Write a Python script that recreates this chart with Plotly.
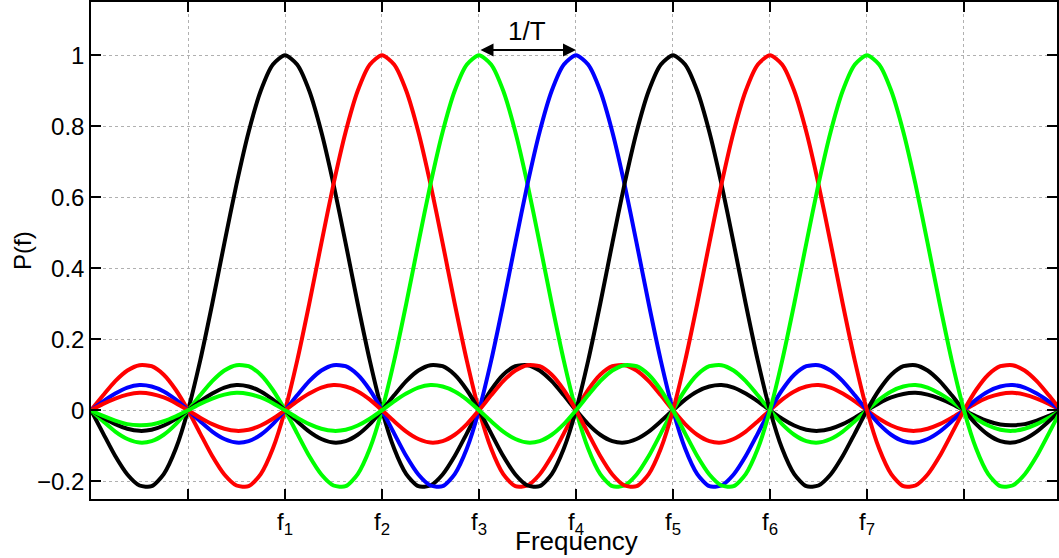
import numpy as np
import plotly.graph_objects as go

# Frequency axis samples (units of 1/T), eighth steps from -1 to 9
freq = np.linspace(-1, 9, 81)

# P(f) for each subcarrier (one row per 1/T interval)
p_f1 = [0, -0.065, -0.129, -0.181, -0.212, -0.214, -0.180, -0.108,
        0, 0.139, 0.300, 0.471, 0.637, 0.784, 0.900, 0.974,
        1, 0.974, 0.900, 0.784, 0.637, 0.471, 0.300, 0.139,
        0, -0.108, -0.180, -0.214, -0.212, -0.181, -0.129, -0.065,
        0, 0.057, 0.100, 0.124, 0.127, 0.112, 0.082, 0.042,
        0, -0.039, -0.069, -0.087, -0.091, -0.081, -0.060, -0.031,
        0, 0.030, 0.053, 0.067, 0.071, 0.064, 0.047, 0.025,
        0, -0.024, -0.043, -0.055, -0.058, -0.052, -0.039, -0.021,
        0, 0.020, 0.036, 0.046, 0.049, 0.044, 0.033, 0.018,
        0, -0.017, -0.031, -0.040, -0.042, -0.039, -0.029, -0.016,
        0]
p_f2 = [0, 0.042, 0.082, 0.112, 0.127, 0.124, 0.100, 0.057,
        0, -0.065, -0.129, -0.181, -0.212, -0.214, -0.180, -0.108,
        0, 0.139, 0.300, 0.471, 0.637, 0.784, 0.900, 0.974,
        1, 0.974, 0.900, 0.784, 0.637, 0.471, 0.300, 0.139,
        0, -0.108, -0.180, -0.214, -0.212, -0.181, -0.129, -0.065,
        0, 0.057, 0.100, 0.124, 0.127, 0.112, 0.082, 0.042,
        0, -0.039, -0.069, -0.087, -0.091, -0.081, -0.060, -0.031,
        0, 0.030, 0.053, 0.067, 0.071, 0.064, 0.047, 0.025,
        0, -0.024, -0.043, -0.055, -0.058, -0.052, -0.039, -0.021,
        0, 0.020, 0.036, 0.046, 0.049, 0.044, 0.033, 0.018,
        0]
p_f3 = [0, -0.031, -0.060, -0.081, -0.091, -0.087, -0.069, -0.039,
        0, 0.042, 0.082, 0.112, 0.127, 0.124, 0.100, 0.057,
        0, -0.065, -0.129, -0.181, -0.212, -0.214, -0.180, -0.108,
        0, 0.139, 0.300, 0.471, 0.637, 0.784, 0.900, 0.974,
        1, 0.974, 0.900, 0.784, 0.637, 0.471, 0.300, 0.139,
        0, -0.108, -0.180, -0.214, -0.212, -0.181, -0.129, -0.065,
        0, 0.057, 0.100, 0.124, 0.127, 0.112, 0.082, 0.042,
        0, -0.039, -0.069, -0.087, -0.091, -0.081, -0.060, -0.031,
        0, 0.030, 0.053, 0.067, 0.071, 0.064, 0.047, 0.025,
        0, -0.024, -0.043, -0.055, -0.058, -0.052, -0.039, -0.021,
        0]
p_f4 = [0, 0.025, 0.047, 0.064, 0.071, 0.067, 0.053, 0.030,
        0, -0.031, -0.060, -0.081, -0.091, -0.087, -0.069, -0.039,
        0, 0.042, 0.082, 0.112, 0.127, 0.124, 0.100, 0.057,
        0, -0.065, -0.129, -0.181, -0.212, -0.214, -0.180, -0.108,
        0, 0.139, 0.300, 0.471, 0.637, 0.784, 0.900, 0.974,
        1, 0.974, 0.900, 0.784, 0.637, 0.471, 0.300, 0.139,
        0, -0.108, -0.180, -0.214, -0.212, -0.181, -0.129, -0.065,
        0, 0.057, 0.100, 0.124, 0.127, 0.112, 0.082, 0.042,
        0, -0.039, -0.069, -0.087, -0.091, -0.081, -0.060, -0.031,
        0, 0.030, 0.053, 0.067, 0.071, 0.064, 0.047, 0.025,
        0]
p_f5 = [0, -0.021, -0.039, -0.052, -0.058, -0.055, -0.043, -0.024,
        0, 0.025, 0.047, 0.064, 0.071, 0.067, 0.053, 0.030,
        0, -0.031, -0.060, -0.081, -0.091, -0.087, -0.069, -0.039,
        0, 0.042, 0.082, 0.112, 0.127, 0.124, 0.100, 0.057,
        0, -0.065, -0.129, -0.181, -0.212, -0.214, -0.180, -0.108,
        0, 0.139, 0.300, 0.471, 0.637, 0.784, 0.900, 0.974,
        1, 0.974, 0.900, 0.784, 0.637, 0.471, 0.300, 0.139,
        0, -0.108, -0.180, -0.214, -0.212, -0.181, -0.129, -0.065,
        0, 0.057, 0.100, 0.124, 0.127, 0.112, 0.082, 0.042,
        0, -0.039, -0.069, -0.087, -0.091, -0.081, -0.060, -0.031,
        0]
p_f6 = [0, 0.018, 0.033, 0.044, 0.049, 0.046, 0.036, 0.020,
        0, -0.021, -0.039, -0.052, -0.058, -0.055, -0.043, -0.024,
        0, 0.025, 0.047, 0.064, 0.071, 0.067, 0.053, 0.030,
        0, -0.031, -0.060, -0.081, -0.091, -0.087, -0.069, -0.039,
        0, 0.042, 0.082, 0.112, 0.127, 0.124, 0.100, 0.057,
        0, -0.065, -0.129, -0.181, -0.212, -0.214, -0.180, -0.108,
        0, 0.139, 0.300, 0.471, 0.637, 0.784, 0.900, 0.974,
        1, 0.974, 0.900, 0.784, 0.637, 0.471, 0.300, 0.139,
        0, -0.108, -0.180, -0.214, -0.212, -0.181, -0.129, -0.065,
        0, 0.057, 0.100, 0.124, 0.127, 0.112, 0.082, 0.042,
        0]
p_f7 = [0, -0.016, -0.029, -0.039, -0.042, -0.040, -0.031, -0.017,
        0, 0.018, 0.033, 0.044, 0.049, 0.046, 0.036, 0.020,
        0, -0.021, -0.039, -0.052, -0.058, -0.055, -0.043, -0.024,
        0, 0.025, 0.047, 0.064, 0.071, 0.067, 0.053, 0.030,
        0, -0.031, -0.060, -0.081, -0.091, -0.087, -0.069, -0.039,
        0, 0.042, 0.082, 0.112, 0.127, 0.124, 0.100, 0.057,
        0, -0.065, -0.129, -0.181, -0.212, -0.214, -0.180, -0.108,
        0, 0.139, 0.300, 0.471, 0.637, 0.784, 0.900, 0.974,
        1, 0.974, 0.900, 0.784, 0.637, 0.471, 0.300, 0.139,
        0, -0.108, -0.180, -0.214, -0.212, -0.181, -0.129, -0.065,
        0]

series = [p_f1, p_f2, p_f3, p_f4, p_f5, p_f6, p_f7]
colors = ["#000000", "#ff0000", "#00ff00", "#0000ff", "#000000", "#ff0000", "#00ff00"]

x_tickvals = [0, 1, 2, 3, 4, 5, 6, 7, 8]
x_ticktext = ["", "f<sub>1</sub>", "f<sub>2</sub>", "f<sub>3</sub>", "f<sub>4</sub>",
              "f<sub>5</sub>", "f<sub>6</sub>", "f<sub>7</sub>", ""]
y_tickvals = [-0.2, 0, 0.2, 0.4, 0.6, 0.8, 1]
y_ticktext = ["\u22120.2", "0", "0.2", "0.4", "0.6", "0.8", "1"]

FONT = "Liberation Sans, Arial, sans-serif"

fig = go.Figure()
for ys, c in zip(series, colors):
    fig.add_trace(go.Scatter(x=freq, y=ys, mode="lines",
                             line=dict(color=c, width=4, shape="spline", smoothing=0.7),
                             showlegend=False, hoverinfo="skip"))

axis_common = dict(showline=True, linecolor="black", linewidth=1.5, mirror="ticks",
                   ticks="inside", ticklen=10, tickcolor="black", tickwidth=1.5,
                   showgrid=True, gridcolor="#b0b0b0", griddash="dot", gridwidth=1,
                   zeroline=False, tickfont=dict(family=FONT, size=24, color="black"))

fig.update_xaxes(range=[-1, 8.959], tickvals=x_tickvals, ticktext=x_ticktext, **axis_common)
fig.update_yaxes(range=[-0.25, 1.15], tickvals=y_tickvals, ticktext=y_ticktext, **axis_common)

fig.add_annotation(x=4, y=1.015, ax=3, ay=1.015, xref="x", yref="y", axref="x", ayref="y",
                   text="", showarrow=True, arrowside="end+start", arrowhead=2,
                   startarrowhead=2, arrowwidth=2, arrowsize=1.3, startarrowsize=1.3,
                   arrowcolor="black")
fig.add_annotation(x=3.5, y=1.067, xref="x", yref="y", text="1/T", showarrow=False,
                   font=dict(family=FONT, size=26, color="black"))
fig.add_annotation(x=4.01, y=-0.0843, xref="x", yref="paper", text="Frequency", showarrow=False,
                   xanchor="center", yanchor="middle",
                   font=dict(family=FONT, size=26, color="black"))
fig.add_annotation(x=-0.071, y=0.5, xref="paper", yref="paper", text="P(f)", showarrow=False,
                   textangle=-90, xanchor="center", yanchor="middle",
                   font=dict(family=FONT, size=24, color="black"))

fig.update_layout(width=1059, height=558, margin=dict(l=91, r=0, t=1, b=59),
                  paper_bgcolor="white", plot_bgcolor="white",
                  font=dict(family=FONT, color="black"))

fig.write_html("out.html")
